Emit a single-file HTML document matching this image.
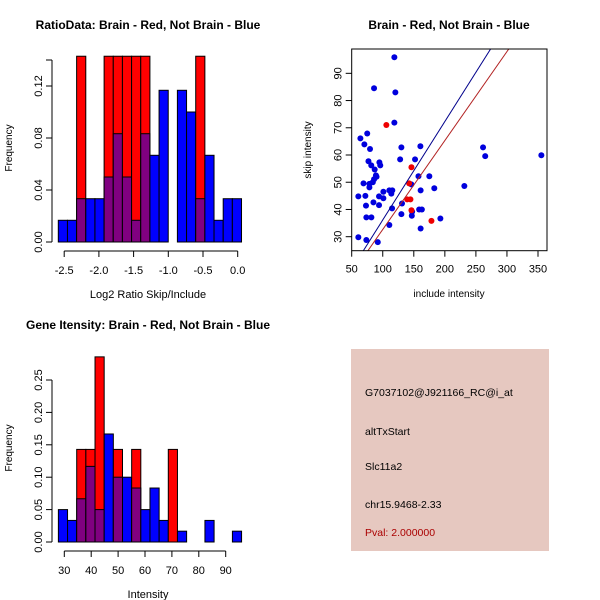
<!DOCTYPE html>
<html><head><meta charset="utf-8"><style>
html,body{margin:0;padding:0;background:#fff}
svg{display:block;font-family:"Liberation Sans",sans-serif}
</style></head><body>
<svg id="s" width="600" height="600" xmlns="http://www.w3.org/2000/svg">
<rect width="600" height="600" fill="#fff"/>
</svg>
<script>
// ---- Ratio histogram data ----
const ratioBinStart = -2.585;
const ratioBinWidth = 0.132;
const ratioBlue = [0.0167,0.0167,0.0333,0.0333,0.0333,0.05,0.0833,0.05,0.0167,0.0833,0.0667,0.1167,0,0.1167,0.1,0.0333,0.0667,0.0167,0.0333,0.0333];
const ratioRed  = [0,0,0.1429,0,0,0.1429,0.1429,0.1429,0.1429,0.1429,0,0,0,0,0,0.1429,0,0,0,0];
const ratioXTicks = [-2.5,-2.0,-1.5,-1.0,-0.5,0.0];
const ratioXLabels = ["-2.5","-2.0","-1.5","-1.0","-0.5","0.0"];
const ratioYTicks = [0,0.04,0.08,0.12];
const ratioYLabels = ["0.00","0.04","0.08","0.12"];
// ---- Intensity histogram data ----
const intBinStart = 27.8;
const intBinWidth = 3.405;
const intBlue = [0.05,0.0333,0.0667,0.1167,0.05,0.1667,0.1,0.1,0.0833,0.05,0.0833,0.0333,0,0.0167,0,0,0.0333,0,0,0.0167];
const intRed  = [0,0,0.1429,0.1429,0.2857,0,0.1429,0,0.1429,0,0,0,0.1429,0,0,0,0,0,0,0];
const intXTicks = [30,40,50,60,70,80,90];
const intYTicks = [0,0.05,0.10,0.15,0.20,0.25];
const intYLabels = ["0.00","0.05","0.10","0.15","0.20","0.25"];
// ---- Scatter data ----
const blueX = [118.7,86,120.3,118.7,64,75,70.4,79.5,130,160.6,261.5,265,355.4,77,94.6,96,81.5,87,128,152,89,90,86,84,69,78.5,78.5,157.5,175,146,231.4,183,161,110.6,115.4,113.8,101,101,94,60.7,72,85,94,73,115,131,158.6,163,147.3,146.8,130,73.6,81.7,110.6,161,192.8,60.7,73.6,92];
const blueY = [95.9,84.5,83,71.9,66.1,67.9,63.9,62.2,62.8,63.2,62.8,59.6,59.9,57.7,57.3,56.2,56.2,54.7,58.4,58.4,52.5,52,51.1,50,49.6,49.4,48.1,52.2,52.2,49.2,48.6,47.8,47,47,47,45.8,46.5,44.1,44.8,44.8,45,42.6,41.6,41.4,40.4,42.2,40,40,39.2,37.7,38.3,37.1,37.1,34.3,33,36.7,29.8,28.8,28];
const redX = [105.8,146.2,142.5,139.3,144.6,146.2,178.4];
const redY = [71,55.5,49.6,43.7,43.7,39.7,35.8];
const fitSlopes = [0.3615,0.3266];
const fitColors = ["#00008b","#b22222"];
const scXTicks = [50,100,150,200,250,300,350];
const scYTicks = [30,40,50,60,70,80,90];

const NS="http://www.w3.org/2000/svg";
const svg=document.getElementById('s');
function el(tag,attrs,parent){const e=document.createElementNS(NS,tag);for(const k in attrs)e.setAttribute(k,attrs[k]);(parent||svg).appendChild(e);return e;}
function txt(x,y,s,attrs,parent){const t=el('text',Object.assign({x:x,y:y,'font-size':11,fill:'#000','text-anchor':'middle'},attrs||{}),parent);t.textContent=s;return t;}

function histogram(name,o){
  const g=el('g',{});
  
  
  const sx=v=>o.x0+(v-o.xv0)*o.xs, sy=v=>o.y0-v*o.ys;
  const n=o.blue.length;
  for(let i=0;i<n;i++){
    const l=sx(o.binStart+i*o.binW), r=sx(o.binStart+(i+1)*o.binW);
    const b=o.blue[i], rd=o.red[i];
    if(rd>0){const re=el('rect',{x:l,y:sy(rd),width:r-l,height:sy(0)-sy(rd),fill:'#ff0000',stroke:'#000','stroke-width':1},g);
      }
    if(b>0){const be=el('rect',{x:l,y:sy(b),width:r-l,height:sy(0)-sy(b),fill:rd>0?'#800080':'#0000ff',stroke:'#000','stroke-width':1},g);
      }
  }
  const ya=el('g',{},g);
  el('line',{x1:o.axX,x2:o.axX,y1:sy(o.yTicks[0]),y2:sy(o.yTicks[o.yTicks.length-1]),stroke:'#000'},ya);
  o.yTicks.forEach((v,i)=>{el('line',{x1:o.axX,x2:o.axX-6,y1:sy(v),y2:sy(v),stroke:'#000'},ya);
    txt(o.axX-14,sy(v)+4,o.yLabels[i],{transform:`rotate(-90 ${o.axX-14} ${sy(v)})`,'font-size':11},ya);});
  const xa=el('g',{},g);
  el('line',{x1:sx(o.xTicks[0]),x2:sx(o.xTicks[o.xTicks.length-1]),y1:o.axY,y2:o.axY,stroke:'#000'},xa);
  o.xTicks.forEach((v,i)=>{el('line',{x1:sx(v),x2:sx(v),y1:o.axY,y2:o.axY+6,stroke:'#000'},xa);txt(sx(v),o.axY+23,o.xLabels[i],{},xa);});
  const xt=txt(148,o.axY+47,o.xTitle,{},g);
  const yt=txt(12,o.yMid,'Frequency',{transform:`rotate(-90 12 ${o.yMid})`,'font-size':10},g);
  const ti=txt(148,o.titleY,o.title,{'font-weight':'bold','font-size':12},g);
}
histogram('ratio-histogram',{x0:237.7,xv0:0,xs:69.4,y0:242,ys:1300,binStart:ratioBinStart,binW:ratioBinWidth,blue:ratioBlue,red:ratioRed,
  axX:52,axY:251,xTicks:ratioXTicks,xLabels:ratioXLabels,yTicks:[0,0.04,0.08,0.12,0.14],yLabels:["0.00","0.04","0.08","0.12",""],xTitle:'Log2 Ratio Skip/Include',yMid:148,title:'RatioData: Brain - Red, Not Brain - Blue',titleY:29});
histogram('intensity-histogram',{x0:64.3,xv0:30,xs:2.69,y0:542,ys:648,binStart:intBinStart,binW:intBinWidth,blue:intBlue,red:intRed,
  axX:52,axY:551,xTicks:intXTicks,xLabels:intXTicks.map(String),yTicks:intYTicks,yLabels:intYLabels,xTitle:'Intensity',yMid:448,title:'Gene Itensity: Brain - Red, Not Brain - Blue',titleY:329});

(function(){
  const g=el('g',{});
  
  
  const L=351.7,R=547,T=49,B=250.7;
  const sx=v=>351.7+(v-50)*0.621, sy=v=>236.7-(v-30)*2.723;
  const cp=el('clipPath',{id:'cp'},g);
  el('rect',{x:L,y:T,width:R-L,height:B-T},cp);
  const pts=el('g',{'clip-path':'url(#cp)'},g);
  blueX.forEach((x,i)=>{const c=el('circle',{cx:sx(x),cy:sy(blueY[i]),r:3,fill:'#0000dd'},pts);
    });
  redX.forEach((x,i)=>{const c=el('circle',{cx:sx(x),cy:sy(redY[i]),r:3,fill:'#ee0000'},pts);
    });
  fitSlopes.forEach((m,i)=>{const x1=40,x2=400;const ln=el('line',{x1:sx(x1),y1:sy(m*x1),x2:sx(x2),y2:sy(m*x2),stroke:fitColors[i],'stroke-width':1},pts);
    });
  el('rect',{x:L,y:T,width:R-L,height:B-T,fill:'none',stroke:'#000'},g);
  const xa=el('g',{},g);
  scXTicks.forEach(v=>{el('line',{x1:sx(v),x2:sx(v),y1:B,y2:B+6,stroke:'#000'},xa);txt(sx(v),B+22,String(v),{},xa);});
  const ya=el('g',{},g);
  scYTicks.forEach(v=>{el('line',{x1:L,x2:L-6,y1:sy(v),y2:sy(v),stroke:'#000'},ya);
    txt(L-14,sy(v)+4,String(v),{transform:`rotate(-90 ${L-14} ${sy(v)})`},ya);});
  const xt=txt(449,297,'include intensity',{'font-size':10},g);
  const yt=txt(311,150,'skip intensity',{transform:'rotate(-90 311 150)','font-size':10},g);
  const ti=txt(449,29,'Brain - Red, Not Brain - Blue',{'font-weight':'bold','font-size':12},g);
})();

(function(){
  const g=el('g',{});
  
  
  el('rect',{x:351,y:349,width:198,height:202,fill:'#e6c8c0'},g);
  const lines=[['G7037102@J921166_RC@i_at',396,'#000','probe-id'],['altTxStart',435,'#000','event-type'],['Slc11a2',470,'#000','gene-name'],['chr15.9468-2.33',508,'#000','location'],['Pval: 2.000000',536,'#aa0000','p-value']];
  lines.forEach(l=>{const t=txt(365,l[1],l[0],{'text-anchor':'start','font-size':10.5,fill:l[2]},g);
    });
})();
</script>
</body></html>
